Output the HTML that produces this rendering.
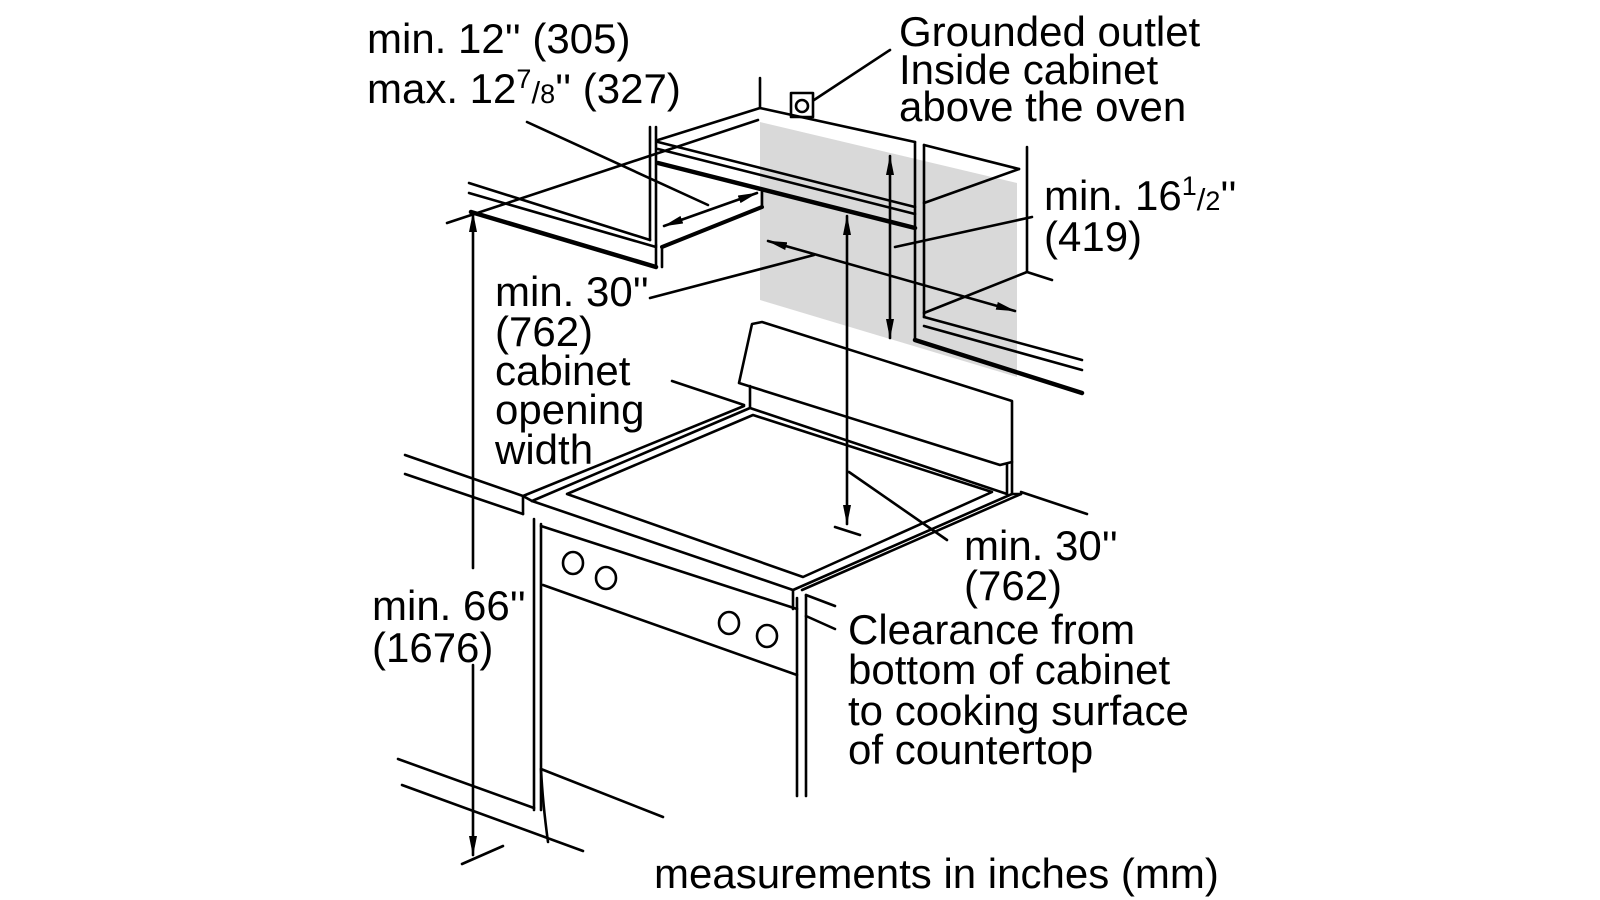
<!DOCTYPE html>
<html><head><meta charset="utf-8"><style>
html,body{margin:0;padding:0;background:#fff;}
svg{display:block;}
text{font-family:"Liberation Sans",Arial,sans-serif;font-size:42px;fill:#000;}
</style></head><body>
<svg width="1600" height="900" viewBox="0 0 1600 900" xmlns="http://www.w3.org/2000/svg">
<defs>
<marker id="a" viewBox="0 0 20 8" refX="19" refY="4" markerWidth="20" markerHeight="8" markerUnits="userSpaceOnUse" orient="auto-start-reverse">
<path d="M0,0 L20,4 L0,8 Z" fill="#000"/></marker>
</defs>
<polygon points="760,122 1017,183 1017,377 760,300" fill="#d9d9d9"/>
<g stroke="#000" stroke-width="2.6" fill="none" stroke-linecap="round" stroke-linejoin="round">
<line x1="760" y1="78" x2="760" y2="108"/>
<line x1="760" y1="108" x2="658" y2="140"/>
<line x1="760" y1="108" x2="915" y2="142"/>
<line x1="924" y1="145" x2="1019" y2="169"/>
<line x1="1019" y1="169" x2="924" y2="203"/>
<rect x="791" y="93" width="22" height="24"/>
<circle cx="802" cy="106" r="6"/>
<line x1="814" y1="100" x2="890" y2="50"/>
<line x1="650" y1="127" x2="650" y2="240"/>
<line x1="656" y1="127" x2="656" y2="245"/>
<line x1="469" y1="183" x2="650" y2="240"/>
<line x1="469" y1="193" x2="656" y2="247"/>
<line x1="471" y1="212" x2="656" y2="267" stroke-width="4.5"/>
<line x1="656" y1="245" x2="656" y2="267"/>
<line x1="662" y1="247" x2="662" y2="267"/>
<line x1="447" y1="223" x2="758" y2="120"/>
<line x1="658" y1="142" x2="915" y2="207"/>
<line x1="658" y1="149" x2="915" y2="214"/>
<line x1="658" y1="163" x2="915" y2="228" stroke-width="4.5"/>
<line x1="662" y1="247" x2="762" y2="207" stroke-width="4"/>
<line x1="762" y1="207" x2="762" y2="192"/>
<line x1="915" y1="142" x2="915" y2="340"/>
<line x1="924" y1="145" x2="924" y2="317"/>
<line x1="915" y1="340" x2="1082" y2="393" stroke-width="4.5"/>
<line x1="924" y1="317" x2="1082" y2="360"/>
<line x1="924" y1="326" x2="1082" y2="370"/>
<line x1="1027" y1="147" x2="1027" y2="272"/>
<line x1="1027" y1="272" x2="1052" y2="280"/>
<line x1="1027" y1="272" x2="924" y2="313"/>
<line x1="664" y1="226" x2="757" y2="193" marker-start="url(#a)" marker-end="url(#a)"/>
<line x1="527" y1="122" x2="708" y2="205"/>
<line x1="890" y1="156" x2="890" y2="338" marker-start="url(#a)" marker-end="url(#a)"/>
<line x1="895" y1="247" x2="1032" y2="217"/>
<line x1="768" y1="241" x2="1015" y2="311" marker-start="url(#a)" marker-end="url(#a)"/>
<line x1="650" y1="298" x2="814" y2="255"/>
<line x1="847" y1="216" x2="847" y2="524" marker-start="url(#a)" marker-end="url(#a)"/>
<line x1="835" y1="527" x2="860" y2="535"/>
<line x1="849" y1="472" x2="947" y2="540"/>
<line x1="473" y1="213" x2="473" y2="568" marker-start="url(#a)"/>
<line x1="473" y1="665" x2="473" y2="855" marker-end="url(#a)"/>
<line x1="462" y1="864" x2="503" y2="846"/>
<polygon points="752,324 762,322 1012,401 1012,462 1000,465 739,383"/>
<line x1="750" y1="386" x2="750" y2="408"/>
<line x1="1007" y1="464" x2="1007" y2="494"/>
<line x1="1012" y1="462" x2="1012" y2="494"/>
<line x1="750" y1="408" x2="1007" y2="494"/>
<line x1="672" y1="381" x2="744" y2="405"/>
<line x1="523" y1="496" x2="744" y2="406"/>
<line x1="532" y1="501" x2="750" y2="408"/>
<line x1="532" y1="501" x2="793" y2="590"/>
<line x1="523" y1="496" x2="532" y2="501"/>
<line x1="793" y1="590" x2="1012" y2="494"/>
<line x1="802" y1="590" x2="1021" y2="494"/>
<line x1="1012" y1="494" x2="1021" y2="494"/>
<polygon points="567,494 753,415 992,492 803,577"/>
<line x1="405" y1="455" x2="523" y2="496"/>
<line x1="405" y1="474" x2="523" y2="514"/>
<line x1="523" y1="496" x2="523" y2="514"/>
<line x1="1021" y1="492" x2="1087" y2="514"/>
<line x1="534" y1="519" x2="534" y2="810"/>
<line x1="541" y1="524" x2="541" y2="810"/>
<line x1="541" y1="526" x2="797" y2="609"/>
<line x1="543" y1="585" x2="797" y2="675"/>
<line x1="793" y1="590" x2="793" y2="609"/>
<line x1="797" y1="598" x2="797" y2="796"/>
<line x1="806" y1="595" x2="806" y2="796"/>
<line x1="806" y1="595" x2="835" y2="606"/>
<line x1="806" y1="616" x2="835" y2="629"/>
<ellipse cx="573" cy="563" rx="10" ry="11"/>
<ellipse cx="606" cy="578" rx="10" ry="11"/>
<ellipse cx="729" cy="623" rx="10" ry="11"/>
<ellipse cx="767" cy="636" rx="10" ry="11"/>
<line x1="398" y1="759" x2="534" y2="808"/>
<line x1="402" y1="785" x2="583" y2="851"/>
<line x1="541" y1="769" x2="663" y2="817"/>
<path d="M541,769 C542,790 545,820 548,842"/>
</g>
<g>
<text x="367" y="53">min. 12'' (305)</text>
<text x="367" y="103">max. 12<tspan dy="-15" font-size="27">7</tspan><tspan dy="15" font-size="31">/</tspan><tspan font-size="27">8</tspan>'' (327)</text>
<text x="899" y="46">Grounded outlet</text>
<text x="899" y="84">Inside cabinet</text>
<text x="899" y="121">above the oven</text>
<text x="1044" y="210">min. 16<tspan dy="-15" font-size="27">1</tspan><tspan dy="15" font-size="31">/</tspan><tspan font-size="27">2</tspan>''</text>
<text x="1044" y="251">(419)</text>
<text x="495" y="306">min. 30''</text>
<text x="495" y="346">(762)</text>
<text x="495" y="385">cabinet</text>
<text x="495" y="424">opening</text>
<text x="495" y="464">width</text>
<text x="964" y="560">min. 30''</text>
<text x="964" y="600">(762)</text>
<text x="848" y="644">Clearance from</text>
<text x="848" y="684">bottom of cabinet</text>
<text x="848" y="725">to cooking surface</text>
<text x="848" y="764">of countertop</text>
<text x="372" y="620">min. 66''</text>
<text x="372" y="662">(1676)</text>
<text x="654" y="888">measurements in inches (mm)</text>
</g>
</svg>
</body></html>
